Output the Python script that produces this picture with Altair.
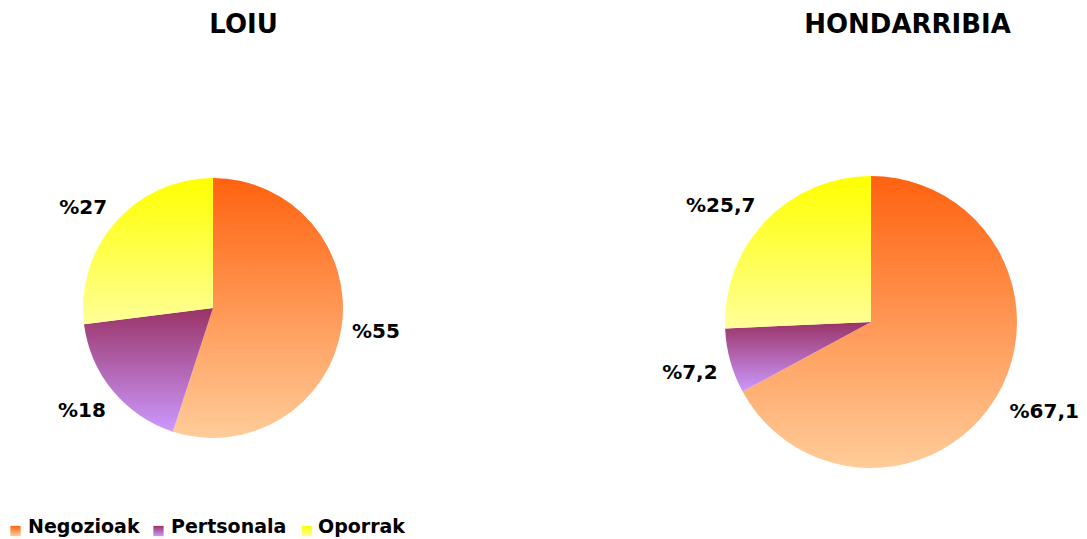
import altair as alt
import pandas as pd
import math

pies = ["LOIU", "HONDARRIBIA"]
categories = ["Negozioak", "Pertsonala", "Oporrak"]
loiu_values = [55, 18, 27]
hondarribia_values = [67.1, 7.2, 25.7]
loiu_labels = ["%55", "%18", "%27"]
hondarribia_labels = ["%67,1", "%7,2", "%25,7"]

df = pd.DataFrame({
    "pie": [pies[0]] * 3 + [pies[1]] * 3,
    "category": categories * 2,
    "order": [0, 1, 2] * 2,
    "value": loiu_values + hondarribia_values,
    "label": loiu_labels + hondarribia_labels,
})
titles_df = pd.DataFrame({"pie": pies})
legend_df = pd.DataFrame({"category": categories})

FONT = "DejaVu Sans"


def grad(top, bottom):
    return alt.Gradient(
        gradient="linear",
        stops=[alt.GradientStop(color=top, offset=0), alt.GradientStop(color=bottom, offset=1)],
        x1=0, x2=0, y1=0, y2=1,
    )


gradients = {
    "Negozioak": grad("#FF6210", "#FFCC99"),
    "Pertsonala": grad("#993366", "#CC99FF"),
    "Oporrak": grad("#FFFF00", "#FFFF99"),
}

theta_scale = alt.Scale(domain=[0, 100], range=[0, 2 * math.pi])

base = (
    alt.Chart(df)
    .transform_window(end="sum(value)", groupby=["pie"], sort=[alt.SortField("order")], frame=[None, 0])
    .transform_calculate(start="datum.end - datum.value", mid="datum.end - datum.value / 2")
)


def make_pie(name, cx, cy, r, label_r, tx, ty, nudges):
    layers = []
    for cat in categories:
        layers.append(
            base.transform_filter(f"datum.pie == '{name}' && datum.category == '{cat}'")
            .mark_arc(fill=gradients[cat], radius=r, opacity=1)
            .encode(
                theta=alt.Theta("start:Q", scale=theta_scale, stack=False),
                theta2="end:Q",
                x=alt.value(cx),
                y=alt.value(cy),
            )
        )
    for cat in categories:
        ndx, ndy = nudges[cat]
        layers.append(
            base.transform_filter(f"datum.pie == '{name}' && datum.category == '{cat}'")
            .mark_text(font=FONT, fontSize=20, fontWeight="bold", color="black", radius=label_r,
                       align="center", baseline="middle", dx=ndx, dy=ndy)
            .encode(
                theta=alt.Theta("mid:Q", scale=theta_scale, stack=False),
                text="label:N",
                x=alt.value(cx),
                y=alt.value(cy),
            )
        )
    layers.append(
        alt.Chart(titles_df)
        .transform_filter(f"datum.pie == '{name}'")
        .mark_text(font=FONT, fontSize=26, fontWeight="bold", color="black", align="center",
                   baseline="alphabetic")
        .encode(text="pie:N", x=alt.value(tx), y=alt.value(ty))
    )
    return layers


layers = []
layers += make_pie("LOIU", 205, 300, 130, 165, 235.5, 25,
                   {"Negozioak": (0, -2), "Pertsonala": (-4, -2), "Oporrak": (-6, 9)})
layers += make_pie("HONDARRIBIA", 863, 314, 146, 190, 899.5, 25,
                   {"Negozioak": (10, -7), "Pertsonala": (2, 0), "Oporrak": (-13, 15)})

legend_pos = {"Negozioak": (7.5, 20), "Pertsonala": (150.5, 163), "Oporrak": (299, 310)}
for cat in categories:
    mx, tx = legend_pos[cat]
    layers.append(
        alt.Chart(legend_df)
        .transform_filter(f"datum.category == '{cat}'")
        .mark_square(fill=gradients[cat], size=105, opacity=1, filled=True)
        .encode(x=alt.value(mx), y=alt.value(523))
    )
    layers.append(
        alt.Chart(legend_df)
        .transform_filter(f"datum.category == '{cat}'")
        .mark_text(font=FONT, fontSize=19, fontWeight="bold", color="black", align="left",
                   baseline="alphabetic")
        .encode(text="category:N", x=alt.value(tx), y=alt.value(525))
    )

chart = (
    alt.layer(*layers)
    .properties(width=1071, height=531, padding=0, autosize=alt.AutoSizeParams(type="none"))
    .configure_view(stroke=None)
)

chart.save("out.html", embed_options={"renderer": "svg", "actions": False})
